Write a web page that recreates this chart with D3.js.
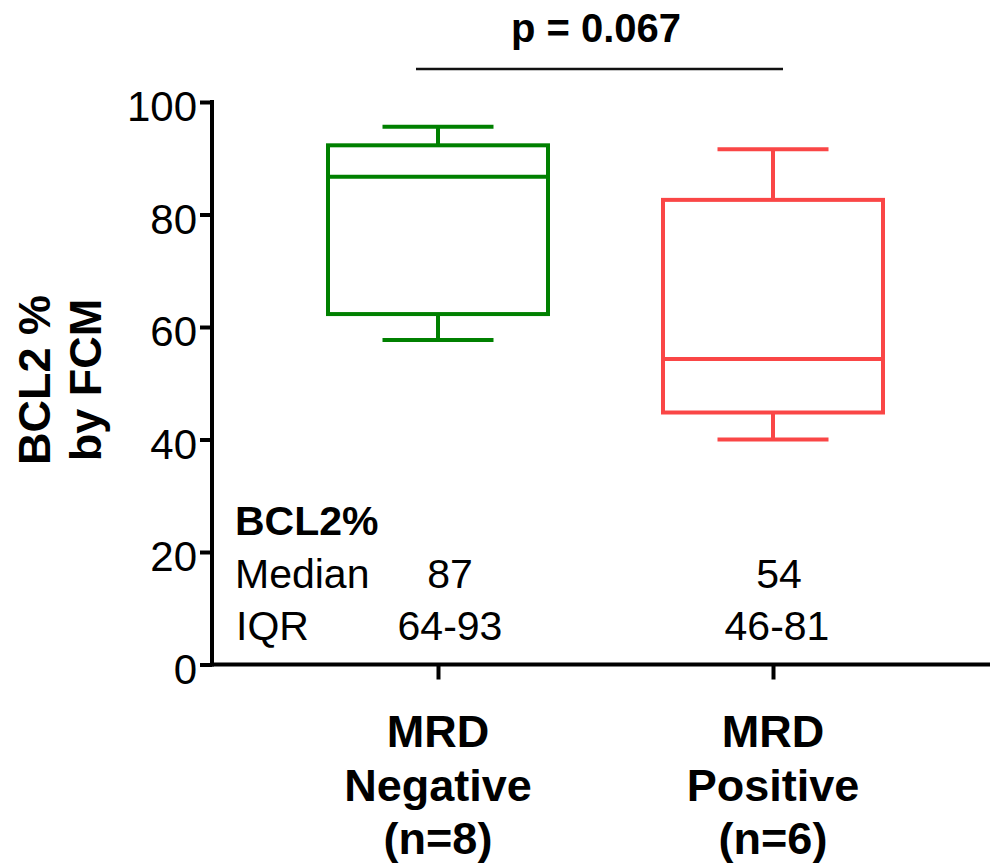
<!DOCTYPE html>
<html>
<head>
<meta charset="utf-8">
<script src="https://cdn.jsdelivr.net/npm/d3@7"></script>
<style>
  body { margin: 0; background: #fff; }
  svg { display: block; font-family: "Liberation Sans", Arial, sans-serif; }
</style>
</head>
<body>
<svg id="chart" width="990" height="867"></svg>
<script>
// data
const groups = ["MRD Negative", "MRD Positive"];
const groupLines = [["MRD", "Negative", "(n=8)"], ["MRD", "Positive", "(n=6)"]];
const whiskerLow = [57.7, 40.0];
const quart1 = [62.3, 44.8];
const medians = [86.7, 54.3];
const quart3 = [92.3, 82.6];
const whiskerHigh = [95.6, 91.6];
const colors = ["#008000", "#fa4646"];
const yTicks = [0, 20, 40, 60, 80, 100];
const statMedian = ["87", "54"];
const statIQR = ["64-93", "46-81"];
const pText = "p = 0.067";

const svg = d3.select("#chart");
const mLeft = 212, mRight = 999, mTop = 102, mBottom = 664.5;
const boxW = 220, capW = 111;

const y = d3.scaleLinear().domain([0, 100]).range([mBottom, mTop]);
const x = d3.scalePoint().domain(groups).range([mLeft, mRight]).padding(0.6746);

// y axis
const gy = svg.append("g")
    .attr("transform", `translate(${mLeft},0)`)
    .call(d3.axisLeft(y).tickValues(yTicks).tickSize(12).tickSizeOuter(0).tickPadding(3));
gy.select(".domain").attr("stroke-width", 4).attr("d", `M0,${mTop - 2}V${mBottom + 2}`);
gy.selectAll(".tick line").attr("stroke-width", 4);
gy.selectAll(".tick text").attr("font-size", 42).attr("dy", "0.45em")
    .attr("font-family", "'Liberation Sans', Arial, sans-serif").attr("fill", "#000");

// x axis
const gx = svg.append("g")
    .attr("transform", `translate(0,${mBottom})`)
    .call(d3.axisBottom(x).tickSize(15).tickSizeOuter(0).tickFormat(""));
gx.select(".domain").attr("stroke-width", 4).attr("d", `M${mLeft - 2},0H990`);
gx.selectAll(".tick line").attr("stroke-width", 4);

// boxes
const boxes = svg.append("g").selectAll("g").data(groups).join("g")
    .attr("fill", "none")
    .attr("stroke", (d, i) => colors[i])
    .attr("stroke-width", 4);

boxes.append("rect")
    .attr("x", d => x(d) - boxW / 2)
    .attr("width", boxW)
    .attr("y", (d, i) => y(quart3[i]))
    .attr("height", (d, i) => y(quart1[i]) - y(quart3[i]));
boxes.append("line")
    .attr("x1", d => x(d) - boxW / 2).attr("x2", d => x(d) + boxW / 2)
    .attr("y1", (d, i) => y(medians[i])).attr("y2", (d, i) => y(medians[i]));
// whiskers
boxes.append("line")
    .attr("x1", d => x(d)).attr("x2", d => x(d))
    .attr("y1", (d, i) => y(quart3[i])).attr("y2", (d, i) => y(whiskerHigh[i]));
boxes.append("line")
    .attr("x1", d => x(d)).attr("x2", d => x(d))
    .attr("y1", (d, i) => y(quart1[i])).attr("y2", (d, i) => y(whiskerLow[i]));
boxes.append("line")
    .attr("x1", d => x(d) - capW / 2).attr("x2", d => x(d) + capW / 2)
    .attr("y1", (d, i) => y(whiskerHigh[i])).attr("y2", (d, i) => y(whiskerHigh[i]));
boxes.append("line")
    .attr("x1", d => x(d) - capW / 2).attr("x2", d => x(d) + capW / 2)
    .attr("y1", (d, i) => y(whiskerLow[i])).attr("y2", (d, i) => y(whiskerLow[i]));

// category labels
const catLabels = svg.append("g").selectAll("text").data(groups).join("text")
    .attr("text-anchor", "middle")
    .attr("font-size", 45)
    .attr("font-weight", "bold");
catLabels.selectAll("tspan").data((d, i) => groupLines[i].map(t => ({t, g: d}))).join("tspan")
    .attr("x", d => x(d.g))
    .attr("y", (d, j) => 747 + j * 53.5)
    .text(d => d.t);

// y title
svg.append("text")
    .attr("transform", "translate(0,380) rotate(-90)")
    .attr("text-anchor", "middle")
    .attr("font-size", 45)
    .attr("font-weight", "bold")
    .selectAll("tspan").data(["BCL2 %", "by FCM"]).join("tspan")
    .attr("x", 0)
    .attr("y", (d, i) => 50 + i * 51)
    .text(d => d);

// significance bar
svg.append("line")
    .attr("x1", x(groups[0]) - 22).attr("x2", x(groups[1]) + 10)
    .attr("y1", 69).attr("y2", 69)
    .attr("stroke", "#111").attr("stroke-width", 2.5);
svg.append("text")
    .attr("x", 596).attr("y", 42)
    .attr("text-anchor", "middle")
    .attr("font-size", 40)
    .attr("font-weight", "bold")
    .text(pText);

// stats table
const tbl = svg.append("g").attr("font-size", 41);
tbl.append("text").attr("x", 235).attr("y", 535).attr("font-weight", "bold").text("BCL2%");
tbl.append("text").attr("x", 235).attr("y", 588).text("Median");
tbl.append("text").attr("x", 236).attr("y", 640).text("IQR");
tbl.selectAll(".med").data(groups).join("text")
    .attr("class", "med")
    .attr("text-anchor", "middle")
    .attr("x", (d, i) => x(d) + (i === 0 ? 12 : 6))
    .attr("y", 588)
    .text((d, i) => statMedian[i]);
tbl.selectAll(".iqr").data(groups).join("text")
    .attr("class", "iqr")
    .attr("text-anchor", "middle")
    .attr("x", (d, i) => x(d) + (i === 0 ? 12 : 4))
    .attr("y", 640)
    .text((d, i) => statIQR[i]);
</script>
</body>
</html>
